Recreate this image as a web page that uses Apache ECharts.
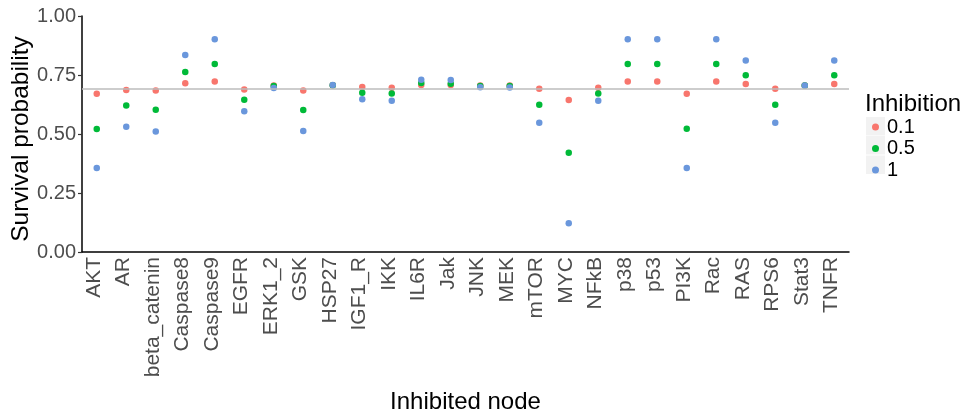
<!DOCTYPE html>
<html>
<head>
<meta charset="utf-8">
<script src="https://cdn.jsdelivr.net/npm/echarts@6/dist/echarts.min.js"></script>
<style>
  html, body { margin: 0; padding: 0; background: #fff; }
  #chart { width: 967px; height: 416px; }
</style>
</head>
<body>
<div id="chart"></div>
<script>
// 被抑制的节点
var nodes = ['AKT', 'AR', 'beta_catenin', 'Caspase8', 'Caspase9', 'EGFR', 'ERK1_2', 'GSK', 'HSP27', 'IGF1_R',
    'IKK', 'IL6R', 'Jak', 'JNK', 'MEK', 'mTOR', 'MYC', 'NFkB', 'p38', 'p53', 'PI3K', 'Rac', 'RAS', 'RPS6', 'Stat3', 'TNFR'];

// 各抑制强度下的存活概率
var inhib01 = [0.671, 0.686, 0.684, 0.715, 0.722, 0.689, 0.705, 0.684, 0.707, 0.699,
    0.696, 0.708, 0.708, 0.705, 0.705, 0.692, 0.644, 0.696, 0.722, 0.722, 0.671, 0.722, 0.712, 0.692, 0.705, 0.712];
var inhib05 = [0.521, 0.621, 0.603, 0.763, 0.797, 0.645, 0.703, 0.602, 0.707, 0.675,
    0.672, 0.716, 0.713, 0.703, 0.703, 0.624, 0.421, 0.672, 0.797, 0.797, 0.522, 0.797, 0.749, 0.624, 0.705, 0.749];
var inhib1 = [0.356, 0.531, 0.511, 0.835, 0.901, 0.596, 0.695, 0.513, 0.708, 0.647,
    0.641, 0.730, 0.729, 0.698, 0.697, 0.548, 0.122, 0.641, 0.901, 0.901, 0.356, 0.901, 0.811, 0.548, 0.705, 0.811];

var legendNames = ['0.1', '0.5', '1'];
var yTicks = [0, 0.25, 0.5, 0.75, 1];
var baseline = 0.691;

var colorArr = ['#F8766D', '#00BA38', '#6A97DC'];

var chartDom = document.getElementById('chart');
var myChart = echarts.init(chartDom);

function makeSeries(name, data, color) {
    return {
        name: name,
        type: 'scatter',
        symbolSize: 6.5,
        itemStyle: { color: color, opacity: 1 },
        data: data
    }
}

var series = [
    makeSeries(legendNames[0], inhib01, colorArr[0]),
    makeSeries(legendNames[1], inhib05, colorArr[1]),
    makeSeries(legendNames[2], inhib1, colorArr[2])
];
series[0].markLine = {
    silent: true,
    symbol: 'none',
    label: { show: false },
    lineStyle: { color: '#bdbdbd', width: 1.6, type: 'solid' },
    data: [{ yAxis: baseline }]
};

var option = {
    animation: false,
    backgroundColor: '#fff',
    textStyle: { fontFamily: 'Liberation Sans, Arial, sans-serif' },
    grid: { left: 82, right: 118, top: 16, bottom: 164, outerBoundsMode: 'none', containLabel: false },
    title: {
        text: 'Inhibition',
        left: 865,
        top: 92,
        padding: 0,
        textStyle: { fontSize: 24, fontWeight: 'normal', color: '#000', fontFamily: 'Liberation Sans, Arial, sans-serif' }
    },
    legend: {
        orient: 'vertical',
        left: 872,
        top: 117,
        padding: 0,
        icon: 'circle',
        itemWidth: 7,
        itemHeight: 7,
        itemGap: 1.5,
        data: legendNames,
        textStyle: { fontSize: 20, color: '#000', lineHeight: 18, padding: [0, 0, 0, 3] }
    },
    graphic: [
        { type: 'rect', left: 866, top: 117, z: -1, shape: { width: 19, height: 18.5 }, style: { fill: '#f2f2f2' } },
        { type: 'rect', left: 866, top: 136, z: -1, shape: { width: 19, height: 18.5 }, style: { fill: '#f2f2f2' } },
        { type: 'rect', left: 866, top: 155.5, z: -1, shape: { width: 19, height: 18.5 }, style: { fill: '#f2f2f2' } }
    ],
    xAxis: {
        type: 'category',
        data: nodes,
        boundaryGap: true,
        name: 'Inhibited node',
        nameLocation: 'middle',
        nameGap: 138,
        nameTextStyle: { fontSize: 24, color: '#000' },
        axisLine: { lineStyle: { color: '#000', width: 1.5 } },
        axisTick: { alignWithLabel: true, length: 4, lineStyle: { color: '#333', width: 1.2 } },
        axisLabel: {
            interval: 0,
            rotate: 90,
            margin: 5,
            fontSize: 21,
            color: '#4d4d4d',
            verticalAlign: 'bottom',
            lineHeight: 6
        },
        splitLine: { show: false }
    },
    yAxis: {
        type: 'value',
        min: 0,
        max: 1,
        interval: 0.25,
        name: 'Survival probability',
        nameLocation: 'middle',
        nameGap: 48,
        nameMoveOverlap: false,
        nameRotate: 90,
        nameTextStyle: { fontSize: 24.5, color: '#000', padding: [0, 10, 0, 0] },
        axisLine: { show: true, lineStyle: { color: '#000', width: 1.5 } },
        axisTick: { show: true, length: 4, lineStyle: { color: '#333', width: 1.2 } },
        axisLabel: {
            margin: 6,
            fontSize: 20,
            color: '#4d4d4d',
            formatter: function (v) {
                return yTicks.indexOf(v) >= 0 ? v.toFixed(2) : ''
            }
        },
        splitLine: { show: false }
    },
    series: series
};

myChart.setOption(option);
</script>
</body>
</html>
